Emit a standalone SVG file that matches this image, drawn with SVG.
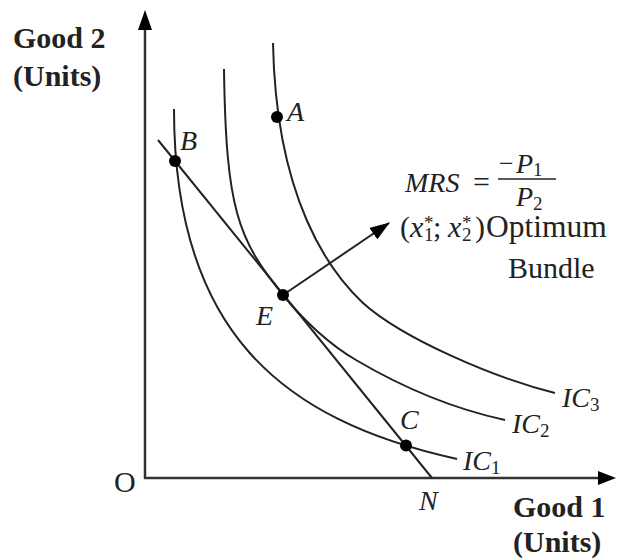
<svg xmlns="http://www.w3.org/2000/svg" width="617" height="560" viewBox="0 0 617 560">
<style>
.ax{stroke:#333;stroke-width:2.5;fill:none}
.cv{stroke:#222;stroke-width:2;fill:none}
.t{font-family:"Liberation Serif",serif;fill:#222}
.b{font-weight:bold;font-size:30px}
.i{font-style:italic;font-size:28px}
.n{font-size:30px}
.s{font-size:19px;font-style:normal}
.dot{fill:#000}
</style>
<defs>
<marker id="ah" viewBox="0 0 20 14" refX="19" refY="7" markerWidth="20" markerHeight="14" markerUnits="userSpaceOnUse" orient="auto">
<path d="M0,0 L20,7 L0,14 Z" fill="#000"/>
</marker>
</defs>
<g id="axes">
<line class="ax" x1="145" y1="479" x2="145" y2="28"/>
<polygon points="145,10 138,30 152,30" fill="#000"/>
<line class="ax" x1="144" y1="478" x2="600" y2="478"/>
<polygon points="616,478 598,471 598,485" fill="#000"/>
</g>
<g id="connectors">
<path id="IC1" class="cv" d="M174,109 C174,330 280,420 457,459"/>
<path id="IC2" class="cv" d="M224,69 C226,210 238,239.4 283,295 C303,320 330,345 356,360 C400,386 450,408 505,420"/>
<path id="IC3" class="cv" d="M273,43 C276,200 330,272 363,303 C403,339 495,378 555,393"/>
<line id="budget" class="cv" x1="158" y1="140" x2="432" y2="478"/>
<line id="arrow" class="cv" x1="283" y1="295" x2="389" y2="223" marker-end="url(#ah)"/>
</g>
<g id="points">
<circle class="dot" cx="277" cy="117" r="6"/>
<circle class="dot" cx="175" cy="161" r="6"/>
<circle class="dot" cx="283" cy="295" r="6"/>
<circle class="dot" cx="406" cy="445.5" r="6"/>
</g>
<g id="labels">
<text class="t b" x="13" y="48">Good 2</text>
<text class="t b" x="13" y="86">(Units)</text>
<text class="t b" x="513" y="517">Good 1</text>
<text class="t b" x="513" y="552">(Units)</text>
<text class="t n" x="114" y="492">O</text>
<text class="t i" x="287" y="121">A</text>
<text class="t i" x="180" y="150">B</text>
<text class="t i" x="256" y="325">E</text>
<text class="t i" x="400" y="429">C</text>
<text class="t i" x="419" y="510">N</text>
<text class="t i" x="463" y="470">IC<tspan class="s" dy="4">1</tspan></text>
<text class="t i" x="512" y="433">IC<tspan class="s" dy="4">2</tspan></text>
<text class="t i" x="562" y="407">IC<tspan class="s" dy="4">3</tspan></text>
<text class="t i" x="405" y="192" font-size="32">MRS</text>
<text class="t n" x="473" y="192">=</text>
<line x1="498" y1="179" x2="556" y2="179" stroke="#222" stroke-width="1.5"/>
<text class="t" x="499" y="172" font-size="26">−</text>
<text class="t i" x="516" y="173" font-size="30">P<tspan class="s" font-size="20" dy="3">1</tspan></text>
<text class="t i" x="516" y="206" font-size="30">P<tspan class="s" font-size="20" dy="4">2</tspan></text>
<text class="t n" x="400" y="237">(<tspan x="410" font-style="italic">x</tspan><tspan class="s" x="424" dy="4">1</tspan><tspan class="s" x="424" dy="-12">*</tspan><tspan x="433" dy="8">;</tspan><tspan x="448" font-style="italic">x</tspan><tspan class="s" x="462" dy="4">2</tspan><tspan class="s" x="462" dy="-12">*</tspan><tspan x="475" dy="8">)</tspan><tspan x="486" font-size="31.5">Optimum</tspan></text>
<text class="t n" x="508" y="278">Bundle</text>
</g>
</svg>
